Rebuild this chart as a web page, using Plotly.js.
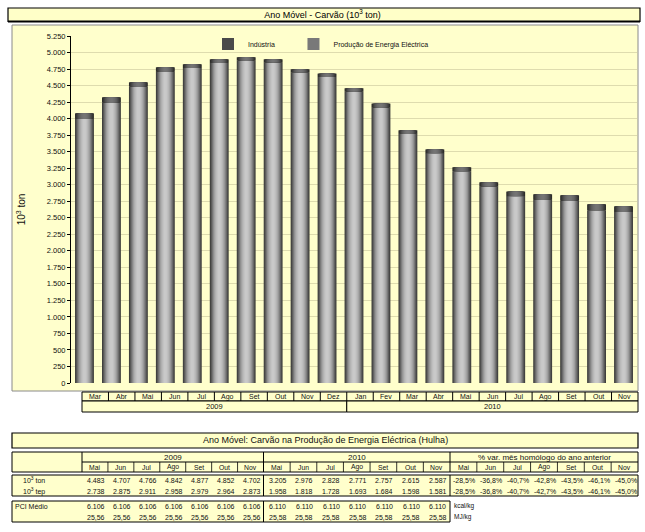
<!DOCTYPE html>
<html>
<head>
<meta charset="utf-8">
<script src="https://cdn.plot.ly/plotly-3.0.1.min.js"></script>
<style>html,body{margin:0;padding:0;background:#fff;}#chart{width:645px;height:532px;}</style>
</head>
<body>
<div id="chart"></div>
<script>
// ---------- DATA ----------
const months = ['Mar','Abr','Mai','Jun','Jul','Ago','Set','Out','Nov','Dez','Jan','Fev','Mar','Abr','Mai','Jun','Jul','Ago','Set','Out','Nov'];
const monthYears = [2009,2009,2009,2009,2009,2009,2009,2009,2009,2009,2010,2010,2010,2010,2010,2010,2010,2010,2010,2010,2010];
const producao = [3995,4242,4483,4707,4766,4842,4877,4852,4702,4630,4410,4167,3770,3478,3205,2976,2828,2771,2757,2615,2587];
const industria = [85,80,66,69,56,55,51,45,44,51,49,60,53,56,59,60,68,84,83,89,86];
const yTicks = [0,250,500,750,1000,1250,1500,1750,2000,2250,2500,2750,3000,3250,3500,3750,4000,4250,4500,4750,5000,5250];

const tableMonths = ['Mai','Jun','Jul','Ago','Set','Out','Nov'];
const ton2009 = [4483,4707,4766,4842,4877,4852,4702];
const tep2009 = [2738,2875,2911,2958,2979,2964,2873];
const ton2010 = [3205,2976,2828,2771,2757,2615,2587];
const tep2010 = [1958,1818,1728,1693,1684,1598,1581];
const varTon = [-28.5,-36.8,-40.7,-42.8,-43.5,-46.1,-45.0];
const varTep = [-28.5,-36.8,-40.7,-42.7,-43.5,-46.1,-45.0];
const pciKcal2009 = [6106,6106,6106,6106,6106,6106,6106];
const pciKcal2010 = [6110,6110,6110,6110,6110,6110,6110];
const pciMJ2009 = [25.56,25.56,25.56,25.56,25.56,25.56,25.56];
const pciMJ2010 = [25.58,25.58,25.58,25.58,25.58,25.58,25.58];

// ---------- HELPERS ----------
const FONT = 'Liberation Sans, Arial, sans-serif';
const YEL = '#FFFFCC';
const PL = 71, PR = 637, PT = 36, PB = 383;
const px = x => (x - PL) / (PR - PL);
const py = y => (PB - y) / (PB - PT);
const fmtK = n => { const s = String(Math.round(n)); return s.length > 3 ? s.slice(0, s.length-3) + '.' + s.slice(-3) : s; };
const fmtDec = (n, d) => n.toFixed(d).replace('.', ',');
const fmtPct = n => fmtDec(n, 1) + '%';

const shapes = [];
const annotations = [];
function rect(x0,y0,x1,y1,fill,lw,lc,layer){
  shapes.push({type:'rect',xref:'paper',yref:'paper',x0:px(x0),x1:px(x1),y0:py(y1),y1:py(y0),
    fillcolor:fill||'rgba(0,0,0,0)',line:{color:lc||'#000',width:lw===undefined?1:lw},layer:layer||'above'});
}
function line(x0,y0,x1,y1,lw,lc){
  shapes.push({type:'line',xref:'paper',yref:'paper',x0:px(x0),x1:px(x1),y0:py(y0),y1:py(y1),
    line:{color:lc||'#000',width:lw||1},layer:'above'});
}
function txt(x,y,text,size,anchor,color){
  annotations.push({xref:'paper',yref:'paper',x:px(x),y:py(y),text:text,showarrow:false,
    xanchor:anchor||'center',yanchor:'middle',font:{family:FONT,size:size||7,color:color||'#111'}});
}

// ---------- CHART FRAME ----------
rect(12,25,638,391,YEL,1,'#8a8a8a','below');
rect(8,8,640,21.5,'#FFFFC8',1.2,'#000','above');
line(8,21.5,640,21.5,2);

// category boxes under the chart
const boxL = 82, boxR = 638, boxW = (boxR - boxL) / months.length;
rect(boxL,392,boxR,401,YEL,1);
months.forEach((m,i)=>{
  if(i>0) line(boxL+i*boxW,392,boxL+i*boxW,401,1);
  txt(boxL+(i+0.5)*boxW,396.7,m,7);
});
const years = [...new Set(monthYears)];
years.forEach(yr=>{
  const idx = monthYears.map((v,i)=>v===yr?i:-1).filter(i=>i>=0);
  const a = boxL+idx[0]*boxW, b = boxL+(idx[idx.length-1]+1)*boxW;
  rect(a,401,b,412,YEL,1);
  txt((a+b)/2,406.5,String(yr),7.5);
});

// ---------- TABLE ----------
const tL = 12, tR = 638;
rect(tL,433,tR,448,'#FFFFC8',1.2);
txt(325,440.5,'Ano Móvel: Carvão na Produção de Energia Eléctrica (Hulha)',9);

const gEdges = [82,263.5,450,638];
const groupTitles = ['2009','2010','% var. mês homólogo do ano anterior'];
rect(tL,452,tR,472,YEL,1);
line(82,452,82,472,1);
line(82,462,tR,462,1);
groupTitles.forEach((g,k)=>{
  const a = gEdges[k], b = gEdges[k+1], w = (b-a)/7;
  if(k>0) line(a,452,a,472,1);
  txt((a+b)/2,457,g,8);
  tableMonths.forEach((m,j)=>{
    if(j>0) line(a+j*w,462,a+j*w,472,0.8);
    txt(a+(j+0.5)*w,467.2,m,6.8);
  });
});
function colX(k,j){ const a = gEdges[k], b = gEdges[k+1]; return a + (j+0.5)*(b-a)/7 + 1; }

// data rows
rect(tL,475,tR,496,YEL,1);
line(263.5,475,263.5,496,1);
line(450,475,450,496,1);
txt(21,480,'10<sup>3</sup> ton',7,'left');
txt(21,491,'10<sup>3</sup> tep',7,'left');
ton2009.forEach((v,j)=>txt(colX(0,j),480,fmtK(v),7));
tep2009.forEach((v,j)=>txt(colX(0,j),491,fmtK(v),7));
ton2010.forEach((v,j)=>txt(colX(1,j),480,fmtK(v),7));
tep2010.forEach((v,j)=>txt(colX(1,j),491,fmtK(v),7));
varTon.forEach((v,j)=>txt(colX(2,j),480,fmtPct(v),7));
varTep.forEach((v,j)=>txt(colX(2,j),491,fmtPct(v),7));

// PCI rows
rect(tL,501,450,522,YEL,1);
line(263.5,501,263.5,522,1);
txt(13,506,'PCI Médio',7,'left');
pciKcal2009.forEach((v,j)=>txt(colX(0,j),506,fmtK(v),7));
pciKcal2010.forEach((v,j)=>txt(colX(1,j),506,fmtK(v),7));
pciMJ2009.forEach((v,j)=>txt(colX(0,j),517,fmtDec(v,2),7));
pciMJ2010.forEach((v,j)=>txt(colX(1,j),517,fmtDec(v,2),7));
txt(452,506,'kcal/kg',6.5,'left');
txt(452,517,'MJ/kg',6.5,'left');

// ---------- BARS (layered to imitate the cylinder shading) ----------
const cats = months.map((m,i)=>m+' '+monthYears[i]);
const layers = [
  [0.70,'#3c3c3a','#2a2a28'],
  [0.64,'#4f4f4e','#343432'],
  [0.58,'#646464','#3f3f3e'],
  [0.52,'#797979','#4a4a4a'],
  [0.46,'#8c8c8c','#555555'],
  [0.40,'#9e9e9e','#5e5e5e'],
  [0.33,'#adadad','#666666'],
  [0.26,'#b9b9b9','#6c6c6c'],
  [0.18,'#c3c3c3','#717171'],
  [0.10,'#c9c9c9','#747474']
];
const NBSP = '\u00a0';
const traces = [];
layers.forEach((L,i)=>{
  traces.push({type:'bar',name:'Produção de Energia Eléctrica',legendgroup:'prod',legendrank:2,
    x:cats,y:producao,width:L[0],marker:{color:L[1],line:{width:0}},
    showlegend:i===3,hoverinfo:'skip'});
});
layers.forEach((L,i)=>{
  traces.push({type:'bar',name:'Indústria'+NBSP.repeat(7),legendgroup:'ind',legendrank:1,
    x:cats,y:industria,base:producao,width:L[0],marker:{color:L[2],line:{width:0}},
    showlegend:i===3,hoverinfo:'skip'});
});

const layout = {
  width:645,height:532,
  paper_bgcolor:'#ffffff',plot_bgcolor:'rgba(0,0,0,0)',
  margin:{l:PL,r:645-PR,t:PT,b:532-PB,pad:0},
  separators:',.',
  barmode:'overlay',
  font:{family:FONT,color:'#111'},
  title:{text:'Ano Móvel - Carvão (10<sup>3</sup> ton)',x:0.5,xanchor:'center',y:1-14.8/532,yanchor:'middle',
    font:{family:FONT,size:9,color:'#000'}},
  xaxis:{type:'category',range:[-0.5,cats.length-0.5],showticklabels:false,showgrid:false,ticks:'',
    showline:false,zeroline:false,fixedrange:true},
  yaxis:{range:[0,5250],tickvals:yTicks,tickformat:',d',showgrid:true,gridcolor:'#dedcae',gridwidth:1,
    showline:true,linecolor:'#000',linewidth:1,ticks:'outside',ticklen:3,tickcolor:'#000',
    tickfont:{family:FONT,size:7.5,color:'#111'},zeroline:false,
    title:{text:'10<sup>3</sup> ton',standoff:19,font:{family:FONT,size:10,color:'#111'}}},
  legend:{orientation:'h',x:px(208),y:py(44),xanchor:'left',yanchor:'middle',bgcolor:'rgba(0,0,0,0)',
    font:{family:FONT,size:7,color:'#111'},itemwidth:30,traceorder:'normal'},
  shapes:shapes,
  annotations:annotations
};
Plotly.newPlot('chart',traces,layout,{displayModeBar:false,staticPlot:true});
</script>
</body>
</html>
